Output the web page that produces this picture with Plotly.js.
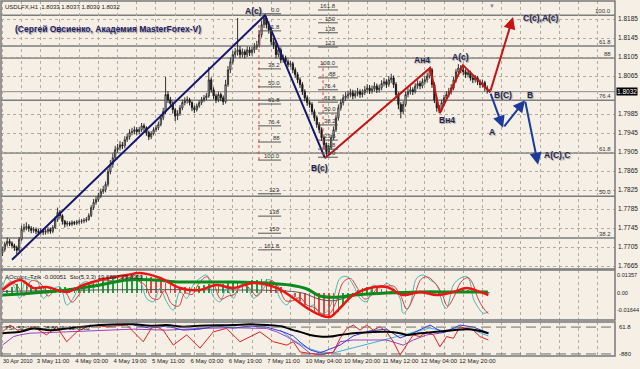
<!DOCTYPE html>
<html><head><meta charset="utf-8">
<script src="https://cdn.plot.ly/plotly-3.0.1.min.js"></script>
<style>html,body{margin:0;padding:0;background:#f6efe5;overflow:hidden}#chart{width:640px;height:369px}</style>
</head><body><div id="chart"></div><script>
// ---------- price data (USDLFX, H1) ----------
const opens=[1.7692,1.7700,1.7711,1.7717,1.7713,1.7708,1.7704,1.7698,1.7721,1.7742,
1.7746,1.7748,1.7744,1.7740,1.7742,1.7738,1.7736,1.7740,1.7736,1.7738,
1.7742,1.7738,1.7746,1.7763,1.7778,1.7771,1.7759,1.7753,1.7755,1.7753,
1.7757,1.7755,1.7757,1.7759,1.7760,1.7761,1.7763,1.7771,1.7788,1.7799,
1.7805,1.7813,1.7822,1.7826,1.7837,1.7864,1.7879,1.7893,1.7910,1.7914,
1.7920,1.7918,1.7931,1.7937,1.7946,1.7948,1.7952,1.7948,1.7952,1.7960,
1.7956,1.7946,1.7937,1.7944,1.7952,1.7956,1.7963,1.7977,1.7990,1.8026,
1.8015,1.8007,1.7994,1.7981,1.7986,1.7998,1.8009,1.8013,1.8015,1.8009,
1.7998,1.7994,1.8002,1.8009,1.8015,1.8019,1.8023,1.8057,1.8036,1.8023,
1.8015,1.8026,1.8019,1.8011,1.8047,1.8078,1.8095,1.8110,1.8116,1.8120,
1.8110,1.8116,1.8110,1.8120,1.8114,1.8120,1.8126,1.8130,1.8152,1.8173,
1.8187,1.8173,1.8162,1.8137,1.8130,1.8110,1.8120,1.8099,1.8103,1.8095,
1.8089,1.8091,1.8078,1.8068,1.8057,1.8047,1.8032,1.8019,1.8009,1.8005,
1.7990,1.7977,1.7963,1.7952,1.7935,1.7920,1.7906,1.7914,1.7935,1.7952,
1.7977,1.7998,1.8009,1.8019,1.8023,1.8026,1.8030,1.8023,1.8028,1.8032,
1.8026,1.8030,1.8036,1.8040,1.8034,1.8038,1.8044,1.8036,1.8040,1.8049,
1.8053,1.8047,1.8057,1.8061,1.8047,1.8026,1.8005,1.7990,1.8005,1.8026,
1.8032,1.8036,1.8032,1.8044,1.8049,1.8044,1.8053,1.8057,1.8065,1.8078,
1.8047,1.8015,1.7998,1.7994,1.8009,1.8019,1.8026,1.8032,1.8040,1.8057,
1.8074,1.8082,1.8078,1.8074,1.8068,1.8072,1.8061,1.8057,1.8061,1.8053,
1.8047,1.8051,1.8040,1.8033];
const highs=[1.7706,1.7716,1.7725,1.7722,1.7717,1.7712,1.7708,1.7726,1.7750,1.7754,
1.7757,1.7753,1.7749,1.7747,1.7746,1.7743,1.7745,1.7744,1.7744,1.7747,
1.7746,1.7751,1.7769,1.7788,1.7783,1.7774,1.7762,1.7760,1.7759,1.7761,
1.7760,1.7762,1.7763,1.7764,1.7766,1.7768,1.7776,1.7793,1.7806,1.7811,
1.7819,1.7828,1.7834,1.7843,1.7870,1.7888,1.7902,1.7918,1.7922,1.7928,
1.7926,1.7938,1.7944,1.7953,1.7956,1.7959,1.7957,1.7958,1.7966,1.7965,
1.7959,1.7950,1.7949,1.7957,1.7962,1.7969,1.7984,1.7998,1.8063,1.8033,
1.8021,1.8012,1.7998,1.7993,1.8004,1.8015,1.8020,1.8022,1.8019,1.8012,
1.8003,1.8007,1.8014,1.8021,1.8025,1.8029,1.8084,1.8062,1.8041,1.8028,
1.8032,1.8030,1.8024,1.8057,1.8086,1.8104,1.8118,1.8124,1.8187,1.8128,
1.8123,1.8121,1.8127,1.8126,1.8127,1.8134,1.8139,1.8160,1.8182,1.8193,
1.8191,1.8180,1.8168,1.8145,1.8136,1.8127,1.8125,1.8110,1.8108,1.8100,
1.8097,1.8095,1.8083,1.8073,1.8062,1.8052,1.8037,1.8024,1.8014,1.8010,
1.7995,1.7982,1.7968,1.7957,1.7940,1.7925,1.7920,1.7941,1.7959,1.7984,
1.8005,1.8016,1.8026,1.8031,1.8034,1.8038,1.8036,1.8035,1.8040,1.8037,
1.8037,1.8044,1.8048,1.8046,1.8045,1.8052,1.8049,1.8047,1.8056,1.8061,
1.8058,1.8065,1.8070,1.8066,1.8052,1.8031,1.8010,1.8012,1.8032,1.8039,
1.8043,1.8041,1.8050,1.8056,1.8055,1.8060,1.8065,1.8072,1.8084,1.8082,
1.8052,1.8020,1.8004,1.8015,1.8025,1.8033,1.8040,1.8048,1.8063,1.8080,
1.8090,1.8088,1.8084,1.8079,1.8078,1.8076,1.8066,1.8067,1.8065,1.8058,
1.8057,1.8055,1.8045,1.8037];
const lows=[1.7686,1.7695,1.7706,1.7707,1.7702,1.7697,1.7690,1.7695,1.7718,1.7736,
1.7740,1.7737,1.7734,1.7735,1.7732,1.7730,1.7731,1.7730,1.7731,1.7733,
1.7733,1.7734,1.7743,1.7758,1.7765,1.7752,1.7746,1.7748,1.7749,1.7749,
1.7751,1.7751,1.7753,1.7754,1.7755,1.7757,1.7760,1.7768,1.7783,1.7794,
1.7800,1.7808,1.7817,1.7820,1.7832,1.7858,1.7872,1.7888,1.7903,1.7908,
1.7911,1.7913,1.7926,1.7931,1.7940,1.7942,1.7941,1.7942,1.7947,1.7949,
1.7939,1.7930,1.7932,1.7940,1.7947,1.7951,1.7959,1.7972,1.7985,1.8008,
1.7999,1.7986,1.7970,1.7972,1.7981,1.7993,1.8003,1.8007,1.8003,1.7991,
1.7987,1.7990,1.7998,1.8004,1.8010,1.8014,1.8019,1.8030,1.8016,1.8008,
1.8010,1.8012,1.8004,1.8007,1.8042,1.8071,1.8089,1.8103,1.8108,1.8103,
1.8104,1.8102,1.8105,1.8107,1.8108,1.8113,1.8120,1.8125,1.8146,1.8166,
1.8165,1.8154,1.8130,1.8122,1.8102,1.8104,1.8092,1.8093,1.8088,1.8083,
1.8084,1.8071,1.8061,1.8050,1.8040,1.8025,1.8012,1.8002,1.7998,1.7983,
1.7970,1.7956,1.7945,1.7928,1.7912,1.7893,1.7898,1.7910,1.7930,1.7947,
1.7971,1.7992,1.8003,1.8013,1.8017,1.8020,1.8016,1.8018,1.8022,1.8019,
1.8020,1.8025,1.8030,1.8027,1.8028,1.8032,1.8029,1.8030,1.8035,1.8043,
1.8040,1.8042,1.8050,1.8040,1.8018,1.7995,1.7976,1.7985,1.8000,1.8020,
1.8026,1.8025,1.8028,1.8038,1.8037,1.8039,1.8047,1.8051,1.8060,1.8040,
1.8008,1.7990,1.7987,1.7990,1.8003,1.8013,1.8020,1.8026,1.8035,1.8051,
1.8068,1.8071,1.8067,1.8061,1.8062,1.8055,1.8050,1.8051,1.8046,1.8040,
1.8041,1.8033,1.8028,1.8030];
const closes=[1.7700,1.7711,1.7717,1.7713,1.7708,1.7704,1.7698,1.7721,1.7742,1.7746,
1.7748,1.7744,1.7740,1.7742,1.7738,1.7736,1.7740,1.7736,1.7738,1.7742,
1.7738,1.7746,1.7763,1.7778,1.7771,1.7759,1.7753,1.7755,1.7753,1.7757,
1.7755,1.7757,1.7759,1.7760,1.7761,1.7763,1.7771,1.7788,1.7799,1.7805,
1.7813,1.7822,1.7826,1.7837,1.7864,1.7879,1.7893,1.7910,1.7914,1.7920,
1.7918,1.7931,1.7937,1.7946,1.7948,1.7952,1.7948,1.7952,1.7960,1.7956,
1.7946,1.7937,1.7944,1.7952,1.7956,1.7963,1.7977,1.7990,1.8026,1.8015,
1.8007,1.7994,1.7981,1.7986,1.7998,1.8009,1.8013,1.8015,1.8009,1.7998,
1.7994,1.8002,1.8009,1.8015,1.8019,1.8023,1.8057,1.8036,1.8023,1.8015,
1.8026,1.8019,1.8011,1.8047,1.8078,1.8095,1.8110,1.8116,1.8120,1.8110,
1.8116,1.8110,1.8120,1.8114,1.8120,1.8126,1.8130,1.8152,1.8173,1.8187,
1.8173,1.8162,1.8137,1.8130,1.8110,1.8120,1.8099,1.8103,1.8095,1.8089,
1.8091,1.8078,1.8068,1.8057,1.8047,1.8032,1.8019,1.8009,1.8005,1.7990,
1.7977,1.7963,1.7952,1.7935,1.7920,1.7906,1.7914,1.7935,1.7952,1.7977,
1.7998,1.8009,1.8019,1.8023,1.8026,1.8030,1.8023,1.8028,1.8032,1.8026,
1.8030,1.8036,1.8040,1.8034,1.8038,1.8044,1.8036,1.8040,1.8049,1.8053,
1.8047,1.8057,1.8061,1.8047,1.8026,1.8005,1.7990,1.8005,1.8026,1.8032,
1.8036,1.8032,1.8044,1.8049,1.8044,1.8053,1.8057,1.8065,1.8078,1.8047,
1.8015,1.7998,1.7994,1.8009,1.8019,1.8026,1.8032,1.8040,1.8057,1.8074,
1.8082,1.8078,1.8074,1.8068,1.8072,1.8061,1.8057,1.8061,1.8053,1.8047,
1.8051,1.8040,1.8036,1.8032];
const barIdx=closes.map((_,i)=>i);
const lastPrice=1.8032;

// ---------- axis labels ----------
const timeLabels=['30 Apr 2010','3 May 11:00','4 May 03:00','4 May 19:00','5 May 11:00','6 May 03:00','6 May 19:00','7 May 11:00','10 May 04:00','10 May 20:00','11 May 12:00','12 May 04:00','12 May 20:00'];
const priceTicks=[1.7665,1.7705,1.7745,1.7785,1.7825,1.7865,1.7905,1.7945,1.7985,1.8065,1.8105,1.8145,1.8185];

// ---------- wave markup ----------
const navyX=[4,109.4,134.4], navyY=[1.7678,1.8193,1.7892];
const redX=[134.4,178.2,182.3,191.9,203.2], redY=[1.7892,1.8082,1.7987,1.8088,1.8031];
const redArrowX=[203.2,212.75], redArrowY=[1.8031,1.8189];
const blueX=[203.2,208.6,217.75,223.2], blueY=[1.8031,1.7956,1.8014,1.7878];
const waveText=['A(c)','B(c)','Ан4','Вн4','A(c)','B(C)','B','A','C(c),A(c)','A(C),C'];
const waveX=[104.5,132.3,174.8,185.3,191,208.6,220,204,224.4,231];
const waveY=[1.8202,1.7871,1.8099,1.7972,1.8104,1.8025,1.8025,1.7947,1.8187,1.7899];

// ---------- Fibonacci drawings ----------
const fib1Text=['0.0','11.8','38.2','50.0','61.8','76.4','88','100.0','123','138','150','161.8'];
const fib1Price=[1.8196,1.8160,1.8080,1.8042,1.8006,1.7960,1.7926,1.7888,1.7817,1.7770,1.7734,1.7699];
const fib1Span=[106.5,116.1], fib1Vert=[106.9,1.8172,1.7888];
const fib2Text=['161.8','150','138','123','100.0','88','76.4','61.8','50.0','38.2','23.6','11.8','0.0'];
const fib2Price=[1.8204,1.8177,1.8156,1.8126,1.8084,1.8061,1.8036,1.8010,1.7987,1.7962,1.7930,1.7911,1.7894];
const fib2Span=[131.5,139.8], fib2Vert=[133.6,1.8094,1.7894];
const fib3Text=['100.0','61.8','88','76.4','61.8','50.0','38.2'];
const fib3Price=[1.8193,1.8128,1.8103,1.8014,1.7903,1.7812,1.7724];

// ---------- indicator 1: AOcolor_Tzik + Sto ----------
const aoHist=[0.0007,0.0020,0.0039,0.0059,0.0072,0.0065,0.0052,0.0039,0.0033,0.0039,
0.0033,0.0033,0.0039,0.0039,0.0033,0.0039,0.0046,0.0052,0.0059,0.0072,
0.0078,0.0085,0.0098,0.0104,0.0104,0.0111,0.0117,0.0117,0.0117,0.0117,
0.0111,0.0104,0.0091,0.0078,0.0065,0.0052,0.0039,0.0033,0.0039,0.0039,
0.0039,0.0046,0.0052,0.0059,0.0059,0.0052,0.0059,0.0065,0.0072,0.0078,
0.0078,0.0078,0.0085,0.0085,0.0091,0.0091,0.0078,0.0059,0.0039,0.0020,
-0.0003,-0.0026,-0.0052,-0.0078,-0.0104,-0.0124,-0.0143,-0.0156,-0.0163,-0.0150,
-0.0124,-0.0085,-0.0039,-0.0007,0.0020,0.0033,0.0039,0.0039,0.0033,0.0026,
0.0020,0.0013,-0.0002,-0.0007,-0.0007,0.0002,0.0007,0.0007,0.0013,0.0013,
0.0007,-0.0007,-0.0007,0.0002,0.0007,0.0013,0.0020,0.0020,0.0013,0.0007,
-0.0002,-0.0007];
const aoHistDir='gggggggggggggggggggggggggggggggrrrrrrrrgggggggggggggggggrrrrrrrrrrrrrrggggggggrrrrrrggggggrrrgggggrrrr';
const aoHistX=aoHist.map((_,k)=>k*2);
const aoSigX=[0,12.75,26.9,40.7,51.9,62.75,74,85.25,96,110.25,119.8,126.9,132.3,140.7,146,160,174,187.75,202.3];
const aoSigY=[-0.0013,0,0.0020,0.0052,0.0085,0.0085,0.0072,0.0072,0.0072,0.0065,0.0052,0.0026,-0.0020,-0.0026,-0.0013,0,0.0007,0.0007,0.0007];
const aoMainX=[0,7.3,12.9,18.4,26.8,33.7,40.7,51.9,57.3,65.7,74,82.3,89,96.2,104.5,114.3,121.2,126.9,132.3,136.5,140.7,146.2,153.2,160.1,166.9,174,181,187.9,193.5,199,202.5];
const aoMainY=[0.0020,0.0085,0.0033,0.0039,0.0007,0.0052,0.0085,0.0117,0.0130,0.0098,0.0033,0.0020,0.0052,0.0033,0.0065,0.0033,-0.0033,-0.0098,-0.0143,-0.0156,-0.0098,-0.0013,0.0033,0.0039,-0.0013,0.0007,-0.0013,0.0007,0.0033,0.0007,-0.0013];
const stoMainX=[0,1.8,4.6,7.3,10.1,14.3,17,19.8,24,26.8,29.5,32.3,35.1,37.9,40.7,44.8,49,53.2,57.3,60.1,62.9,65.7,68.4,71.2,74,76.8,79.5,82.3,85.1,87.9,90.7,93.4,96.2,99,101.8,104.5,107.3,110.1,112.9,115.7,118.5,121.2,124,126.8,129.5,132.3,135.1,137.9,140.7,143.5,146.2,149,151.8,154.5,157.3,160.1,162.9,165.7,167,169.8,172.6,175.4,178.2,181,183.7,185.1,187.9,190.7,193.5,194.8,196.2,197.6,200.4,202.5];
const stoMainY=[0.0031,0.0096,0.0052,-0.0035,0.0096,0.0085,-0.0035,0.0009,0.0041,-0.0078,-0.0035,0.0052,0.0074,0.0031,0.0096,0.0074,0.0117,0.0096,0.0074,-0.0035,-0.0057,0.0031,-0.0057,-0.0111,0.0009,-0.0035,0.0052,0.0096,0.0117,-0.0024,-0.0057,0.0031,-0.0035,0.0052,0.0052,-0.0035,0.0009,0.0085,0.0074,-0.0035,-0.0078,-0.0013,-0.0057,-0.0100,-0.0078,-0.0130,-0.0122,-0.0035,0.0096,0.0107,0.0052,-0.0035,-0.0057,0.0052,0.0031,0.0063,0.0031,-0.0035,-0.0132,-0.0078,0.0096,0.0117,0.0085,0.0052,-0.0078,-0.0100,0.0052,0.0096,0.0107,0.0074,-0.0035,-0.0078,-0.0132,-0.0122];
const stoSigX=[0,3.5,6.5,9,12,16,19,22,26,29,31.5,34.5,37,40,43,47,51,55,59.5,62,65,67.5,70.5,73.5,76,79,82,85,88,91,94,96.5,100,103,106,109,112,115,118,121,124,127,130,133,136,139,142,145,148,151,154,157,160,163,166,168.5,171.5,174.5,177,180,183,185.5,188,191,194,196,198,200.5,202.5];
const stoSigY=[0.0020,0.0072,0.0040,-0.0020,0.0080,0.0060,-0.0020,0.0015,0.0010,-0.0060,-0.0020,0.0050,0.0060,0.0040,0.0085,0.0075,0.0105,0.0090,0.0050,-0.0030,-0.0040,0.0015,-0.0070,-0.0085,0.0000,-0.0010,0.0065,0.0105,0.0060,-0.0040,-0.0020,-0.0010,0.0050,0.0030,-0.0020,0.0035,0.0080,0.0040,-0.0050,-0.0050,-0.0030,-0.0080,-0.0095,-0.0135,-0.0140,-0.0060,0.0070,0.0095,0.0030,-0.0040,-0.0010,0.0045,0.0045,0.0045,-0.0020,-0.0105,-0.0020,0.0090,0.0105,0.0070,0.0000,-0.0085,-0.0030,0.0070,0.0100,0.0060,-0.0030,-0.0100,-0.0135];
const aoSlowX=[0,30,60,90,115,125,132,138,146,160,180,203];
const aoSlowY=[0.0010,0.0018,0.0022,0.0020,0.0015,0.0000,-0.0040,-0.0050,-0.0020,0.0005,0.0008,0.0002];

// ---------- indicator 2 ----------
const blackX=[0,7.3,12.9,19.8,26.8,33.7,40.7,54.6,61.5,68.4,75.4,82.3,96.2,103.2,110.1,117,121.2,124,128.2,132.3,136.5,140.7,146.2,153.2,160.1,165.7,168.5,174,181,187.9,193.5,197.6,202.5];
const blackY=[67,71,81,76,81,86,91,93,89,91,86,89,91,93,91,86,76,71,62,57,57,62,67,70,71,67,62,67,71,76,79,76,67];
const purpleX=[0,1.8,4.6,7.3,11.5,26.8,40.7,54.6,68.4,82.3,96.2,110.1,114.3,118.5,124,128.2,132.3,137.9,140.7,146.2,160.1,167,171.2,176.8,182.3,187.9,193.5,197.6,202.5];
const purpleY=[32,42,57,62,67,71,76,79,76,81,83,81,71,57,32,8,5,11,42,47,47,32,47,62,67,76,81,76,67];
const redOscX=[0,3.2,7.3,12.9,18.4,22.6,26.8,31,36.5,43.5,51.8,58.7,62.9,67,71.2,76.8,82.3,87.9,93.4,99,107.3,112.9,118.5,121.2,124,128.2,132.3,137.9,140.7,143.5,146.2,149,151.8,154.5,157.3,160.1,162.9,165.7,168.5,171.2,174,176.8,179.6,182.3,185.1,187.9,190.7,193.5,196.2,199,202.5];
const redOscY=[71,91,71,86,62,86,42,71,91,86,91,42,91,76,32,62,23,71,81,42,71,42,32,42,12,8,3,11,52,81,91,76,91,76,86,71,42,3,32,62,57,71,62,27,57,52,86,81,76,57,47];
const blueOscX=[54.6,61.5,68.4,75.4,82.3,89,96.2,103.2,110.1,117,121.2,124,128.2,132.3,140.7,146.2,153.2,160.1,165.7,171.2,178.2,183.7,190.7,196.2,202.5];
const blueOscY=[91,82,88,76,79,88,82,88,85,71,59,41,18,9,32,59,74,79,53,68,91,68,91,85,68];
const cyanOscX=[115.7,121.2,126.8,132.3,137.9,172,178,184,190.7,196.2,202.5];
const cyanOscY=[76,47,24,12,9,70,82,74,85,76,59];
const osc2Levels=[85,6];

// ---------- build ----------
const FONT='Liberation Sans, Arial, sans-serif';
const grid='#b4ab9c';
const traces=[];
traces.push({type:'candlestick',x:barIdx,open:opens,high:highs,low:lows,close:closes,xaxis:'x',yaxis:'y',
  increasing:{line:{color:'#333333',width:1},fillcolor:'#ffffff'},
  decreasing:{line:{color:'#1a1a1a',width:1},fillcolor:'#1a1a1a'},whiskerwidth:0,hoverinfo:'skip'});
traces.push({type:'scatter',mode:'lines',x:navyX,y:navyY,line:{color:'#16166e',width:2},yaxis:'y'});
traces.push({type:'scatter',mode:'lines',x:redX,y:redY,line:{color:'#c41414',width:2},yaxis:'y'});
function segs(span,prices){const x=[],y=[];prices.forEach(p=>{x.push(span[0],span[1],null);y.push(p,p,null);});return {x,y};}
const f1=segs(fib1Span,fib1Price), f2=segs(fib2Span,fib2Price);
traces.push({type:'scatter',mode:'lines',x:f1.x,y:f1.y,line:{color:'#555',width:1},yaxis:'y'});
traces.push({type:'scatter',mode:'lines',x:f2.x,y:f2.y,line:{color:'#555',width:1},yaxis:'y'});
traces.push({type:'scatter',mode:'lines',x:[fib1Vert[0],fib1Vert[0]],y:[fib1Vert[1],fib1Vert[2]],line:{color:'#e04040',width:1,dash:'dot'},yaxis:'y'});
traces.push({type:'scatter',mode:'lines',x:[fib2Vert[0],fib2Vert[0]],y:[fib2Vert[1],fib2Vert[2]],line:{color:'#e04040',width:1,dash:'dot'},yaxis:'y'});
// indicator 1
traces.push({type:'bar',x:aoHistX,y:aoHist,width:0.6,marker:{color:aoHistDir.split('').map(c=>c==='g'?'#1f9e3c':'#e5463f'),line:{width:0}},xaxis:'x',yaxis:'y2'});
traces.push({type:'scatter',mode:'lines',x:aoSlowX,y:aoSlowY,line:{color:'#555555',width:1,shape:'spline'},yaxis:'y2'});
traces.push({type:'scatter',mode:'lines',x:stoMainX,y:stoMainY,line:{color:'#49b8ad',width:1,shape:'spline'},yaxis:'y2'});
traces.push({type:'scatter',mode:'lines',x:stoSigX,y:stoSigY,line:{color:'#e23a3a',width:1,shape:'spline'},yaxis:'y2'});
traces.push({type:'scatter',mode:'lines',x:aoSigX,y:aoSigY,line:{color:'#0b8a1e',width:3,shape:'spline'},yaxis:'y2'});
traces.push({type:'scatter',mode:'lines',x:aoMainX,y:aoMainY,line:{color:'#ee1414',width:2.5,shape:'spline'},yaxis:'y2'});
// indicator 2
traces.push({type:'scatter',mode:'lines',x:cyanOscX,y:cyanOscY,line:{color:'#40aee0',width:1},yaxis:'y3'});
traces.push({type:'scatter',mode:'lines',x:purpleX,y:purpleY,line:{color:'#9a40c8',width:1},yaxis:'y3'});
traces.push({type:'scatter',mode:'lines',x:blueOscX,y:blueOscY,line:{color:'#3434d8',width:1},yaxis:'y3'});
traces.push({type:'scatter',mode:'lines',x:redOscX,y:redOscY,line:{color:'#e82020',width:1},yaxis:'y3'});
traces.push({type:'scatter',mode:'lines',x:blackX,y:blackY,line:{color:'#000000',width:2,shape:'spline'},yaxis:'y3'});

const shapes=[];
fib3Price.forEach(p=>shapes.push({type:'line',xref:'paper',x0:0,x1:1,yref:'y',y0:p,y1:p,line:{color:'#7d7d7d',width:1.5},layer:'below'}));
shapes.push({type:'line',xref:'paper',x0:0,x1:1,yref:'y',y0:lastPrice,y1:lastPrice,line:{color:'#8a8a8a',width:1},layer:'below'});
osc2Levels.forEach(v=>shapes.push({type:'line',xref:'paper',x0:0,x1:1,yref:'y3',y0:v,y1:v,line:{color:'#6e6e6e',width:1,dash:'10px,5px'}}));
['y','y2','y3'].forEach(a=>shapes.push({type:'rect',xref:'paper',x0:0,x1:1,yref:a+' domain',y0:0,y1:1,line:{color:'#7a7a7a',width:1.5},fillcolor:'rgba(0,0,0,0)'}));

const ann=[];
const wf={family:FONT,size:8.5,color:'#24254c',weight:'bold',shadow:'1px 1px 1px #a0a0a0'};
waveText.forEach((t,i)=>ann.push({x:waveX[i],y:waveY[i],xref:'x',yref:'y',text:t,showarrow:false,font:wf}));
function arrow(x0,y0,x1,y1,c){ann.push({x:x1,y:y1,ax:x0,ay:y0,xref:'x',yref:'y',axref:'x',ayref:'y',text:'',showarrow:true,arrowhead:2,arrowsize:1.2,arrowwidth:2,arrowcolor:c});}
arrow(redArrowX[0],redArrowY[0],redArrowX[1],redArrowY[1],'#c41414');
for(let k=0;k<blueX.length-1;k++) arrow(blueX[k],blueY[k],blueX[k+1],blueY[k+1],'#1c3a9a');
const ff={family:FONT,size:6,color:'#333'};
fib1Text.forEach((t,i)=>ann.push({x:fib1Span[1]+0.4,y:fib1Price[i],xref:'x',yref:'y',text:t,showarrow:false,xanchor:'right',yanchor:'bottom',yshift:-1,font:ff}));
fib2Text.forEach((t,i)=>ann.push({x:fib2Span[1],y:fib2Price[i],xref:'x',yref:'y',text:t,showarrow:false,xanchor:'right',yanchor:'bottom',yshift:-1,font:ff}));
fib3Text.forEach((t,i)=>ann.push({x:0.997,y:fib3Price[i],xref:'paper',yref:'y',text:t,showarrow:false,xanchor:'right',yanchor:'bottom',yshift:-1,font:ff}));
ann.push({x:1,y:lastPrice,xref:'paper',yref:'y',xanchor:'left',xshift:1,text:lastPrice.toFixed(4),showarrow:false,bgcolor:'#000',borderpad:0,font:{family:FONT,size:6.5,color:'#fff'}});
const af={family:FONT,size:5.6,color:'#222'};
[[0.01357,0.0117],[0,0],[-0.01644,-0.0111]].forEach(([v,pos])=>ann.push({x:1,y:pos,xref:'paper',yref:'y2',xanchor:'left',xshift:0,text:v.toFixed(v===0?2:5),showarrow:false,font:af}));
ann.push({x:1,y:85,xref:'paper',yref:'y3',xanchor:'left',xshift:2,text:'61.8',showarrow:false,font:{family:FONT,size:6,color:'#222'}});
ann.push({x:1,y:6,xref:'paper',yref:'y3',xanchor:'left',xshift:2,text:'-880',showarrow:false,font:{family:FONT,size:6,color:'#222'}});
ann.push({x:0.004,y:1,xref:'paper',yref:'y domain',xanchor:'left',yanchor:'top',yshift:-1,text:'USDLFX,H1  1.8033 1.8037 1.8030 1.8032',showarrow:false,font:{family:FONT,size:6,color:'#222'}});
ann.push({x:0.02,y:1,xref:'paper',yref:'y domain',xanchor:'left',yanchor:'top',yshift:-21,text:'(Сергей Овсиенко, Академия MasterForex-V)',showarrow:false,font:{family:FONT,size:8.5,color:'#1e2266',weight:'bold',shadow:'1px 1px 1px #9a9a9a'}});
ann.push({x:0.004,y:1,xref:'paper',yref:'y2 domain',xanchor:'left',yanchor:'top',yshift:-2,text:'AOcolor_Tzik -0.00051  Sto(5,3,3) 19.6897 23.6909',showarrow:false,font:{family:FONT,size:6,color:'#222'}});
ann.push({x:0.004,y:1,xref:'paper',yref:'y3 domain',xanchor:'left',yanchor:'top',yshift:-1,text:'TSI  52.0140 -38.8041 -12.0082',showarrow:false,font:{family:FONT,size:6,color:'#222'}});
ann.push({x:204,y:1,xref:'x',yref:'paper',yanchor:'top',text:'▼',showarrow:false,font:{family:FONT,size:6,color:'#888'}});
// first date label sits at the very left edge
ann.push({x:0,y:0,xref:'paper',yref:'paper',xanchor:'left',yanchor:'top',xshift:0,yshift:0,text:timeLabels[0],showarrow:false,font:{family:FONT,size:5.5,color:'#222'}});

const xTickVals=[],xTickText=[];
for(let v=0;v<=248;v+=8){xTickVals.push(v);const k=v/16;xTickText.push(Number.isInteger(k)&&k>0&&k<timeLabels.length?timeLabels[k]:'');}

const layout={width:640,height:369,margin:{l:1,r:25,t:1,b:13},paper_bgcolor:'#f6efe5',plot_bgcolor:'#f6efe5',showlegend:false,hovermode:false,
  xaxis:{anchor:'y3',range:[-0.58,255.25],tickmode:'array',tickvals:xTickVals,ticktext:xTickText,ticklabelposition:'outside right',ticklabelshift:-4,ticks:'',tickangle:0,
    showgrid:true,gridcolor:grid,griddash:'dot',gridwidth:1,zeroline:false,showline:false,rangeslider:{visible:false},
    tickfont:{family:FONT,size:6,color:'#222'}},
  yaxis:{domain:[0.2451,1],range:[1.76587,1.82229],side:'right',tickmode:'array',tickvals:priceTicks,ticktext:priceTicks.map(v=>v.toFixed(4)),ticks:'',
    showgrid:true,gridcolor:grid,griddash:'dot',zeroline:false,tickfont:{family:FONT,size:6.5,color:'#222'},ticklabelstandoff:2},
  yaxis2:{domain:[0.1014,0.2423],range:[-0.0176,0.0150],showticklabels:false,showgrid:false,zeroline:false},
  yaxis3:{domain:[0,0.0958],range:[0,100],showticklabels:false,showgrid:false,zeroline:false},
  bargap:0,shapes:shapes,annotations:ann};
Plotly.newPlot('chart',traces,layout,{staticPlot:true,displayModeBar:false});
</script></body></html>
